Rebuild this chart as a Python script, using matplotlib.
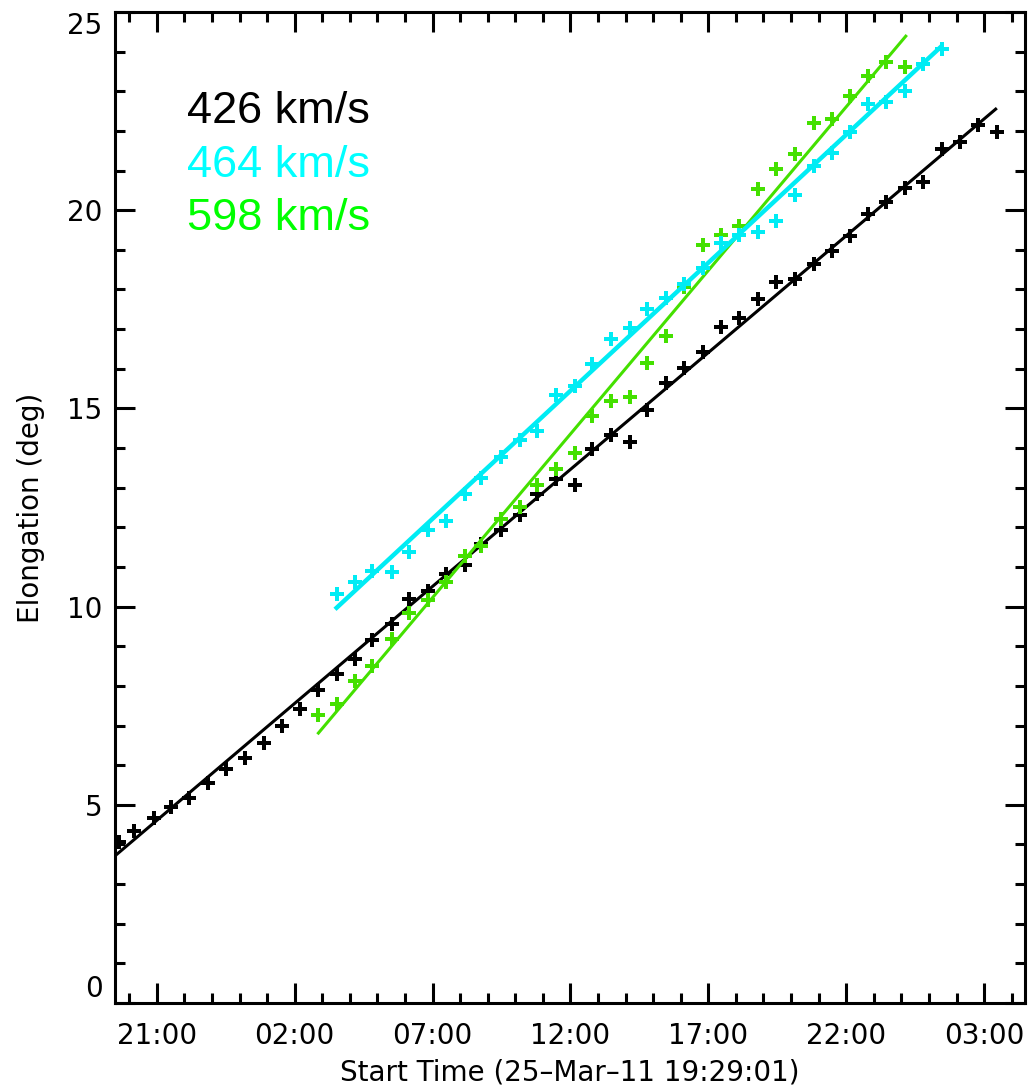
import matplotlib
matplotlib.use("Agg")
import matplotlib.pyplot as plt
from matplotlib.ticker import MultipleLocator, FuncFormatter

# time in hours since 25-Mar-11 00:00 (40 min cadence)
t_black = [19.624, 20.156, 20.880, 21.518, 22.184, 22.873, 23.510, 24.198, 24.875, 25.527,
           26.190, 26.857, 27.530, 28.182, 28.812, 29.511, 30.138, 30.841, 31.503, 32.166,
           32.771, 33.496, 34.158, 34.799, 35.488, 36.176, 36.791, 37.480, 38.142, 38.783,
           39.472, 40.134, 40.801, 41.464, 42.126, 42.793, 43.456, 44.144, 44.821, 45.473,
           46.147, 46.777, 47.440, 48.128, 48.791, 49.457, 50.120, 50.797, 51.460]
e_black = [4.07, 4.35, 4.66, 4.94, 5.16, 5.56, 5.91, 6.19, 6.57, 7.00,
           7.42, 7.89, 8.31, 8.68, 9.17, 9.57, 10.20, 10.39, 10.81, 11.04,
           11.57, 11.92, 12.32, 12.85, 13.21, 13.06, 13.98, 14.32, 14.15, 14.95,
           15.63, 16.03, 16.42, 17.06, 17.29, 17.77, 18.20, 18.26, 18.64, 18.96,
           19.34, 19.90, 20.21, 20.57, 20.72, 21.54, 21.73, 22.15, 21.98]

t_cyan = t_black[12:46]
e_cyan = [10.33, 10.62, 10.91, 10.88, 11.38, 11.94, 12.17, 12.85, 13.25, 13.78,
          14.20, 14.44, 15.35, 15.56, 16.11, 16.76, 17.04, 17.52, 17.79, 18.13,
          18.53, 19.16, 19.37, 19.45, 19.74, 20.39, 21.12, 21.44, 21.98, 22.69,
          22.74, 23.01, 23.70, 24.07]

t_green = t_black[11:44]
e_green = [7.26, 7.54, 8.12, 8.49, 9.19, 9.84, 10.17, 10.63, 11.27, 11.53,
           12.20, 12.52, 13.08, 13.46, 13.88, 14.81, 15.18, 15.30, 16.15, 16.83,
           18.05, 19.11, 19.37, 19.59, 20.53, 21.05, 21.41, 22.19, 22.30, 22.87,
           23.39, 23.73, 23.62]

# fitted tracks
fit_black_t = [19.48, 35.49, 51.42]
fit_black_e = [3.71, 13.16, 22.55]
fit_cyan_t = [27.52, 38.47, 49.43]
fit_cyan_e = [9.97, 17.04, 24.12]
fit_green_t = [26.86, 37.51, 48.16]
fit_green_e = [6.81, 15.60, 24.39]

speeds = ["426 km/s", "464 km/s", "598 km/s"]
t_start = 19 + 29 / 60 + 1 / 3600

BLACK = "black"
CYAN = "#00ecf4"
GREEN = "#44e000"

plt.rcParams["font.family"] = ["DejaVu Sans"]

fig = plt.figure(figsize=(10.3, 10.9), dpi=100)
ax = fig.add_axes([115 / 1030, 87 / 1090, 910 / 1030, 991 / 1090])

mk = dict(marker="P", markersize=9.5, markeredgewidth=0, linestyle="none")
ax.plot(t_black, e_black, color=BLACK, **mk)
ax.plot(fit_black_t, fit_black_e, color=BLACK, lw=2.2)
ax.plot(t_green, e_green, color=GREEN, **mk)
ax.plot(fit_green_t, fit_green_e, color=GREEN, lw=2.2)
ax.plot(t_cyan, e_cyan, color=CYAN, **mk)
ax.plot(fit_cyan_t, fit_cyan_e, color=CYAN, lw=3.2)

ax.set_xlim(t_start, t_start + 33)
ax.set_ylim(0, 25)

ax.xaxis.set_major_locator(MultipleLocator(5, offset=1))
ax.xaxis.set_minor_locator(MultipleLocator(1))
ax.yaxis.set_major_locator(MultipleLocator(5))
ax.yaxis.set_minor_locator(MultipleLocator(1))
ax.xaxis.set_major_formatter(FuncFormatter(lambda v, p: "%02d:00" % (int(round(v)) % 24)))

ax.tick_params(which="both", direction="in", top=True, right=True, width=2.2,
               labelsize=20, colors="black")
ax.tick_params(which="major", length=14.4)
ax.tick_params(which="minor", length=7.2)
ax.tick_params(axis="x", pad=14)
ax.tick_params(axis="y", pad=9)
for sp in ax.spines.values():
    sp.set_linewidth(2.2)

fig.canvas.draw()
for tk in ax.yaxis.get_major_ticks():
    loc = tk.get_loc()
    if abs(loc) < 1e-6:
        tk.label1.set_va("bottom")
    elif abs(loc - 25) < 1e-6:
        tk.label1.set_va("top")

ax.set_xlabel("Start Time (25\u2013Mar\u201311 19:29:01)", fontsize=20, labelpad=6)
ax.set_ylabel("Elongation (deg)", fontsize=20, labelpad=16)

for txt, col, yy in zip(speeds, ["black", "#00ffff", "#00ff00"], [0.888, 0.8335, 0.780]):
    ax.text(0.079, yy, txt, color=col, fontsize=32.5, family="Liberation Sans",
            transform=ax.transAxes, va="baseline", ha="left")

fig.savefig("out.png", dpi=100)
